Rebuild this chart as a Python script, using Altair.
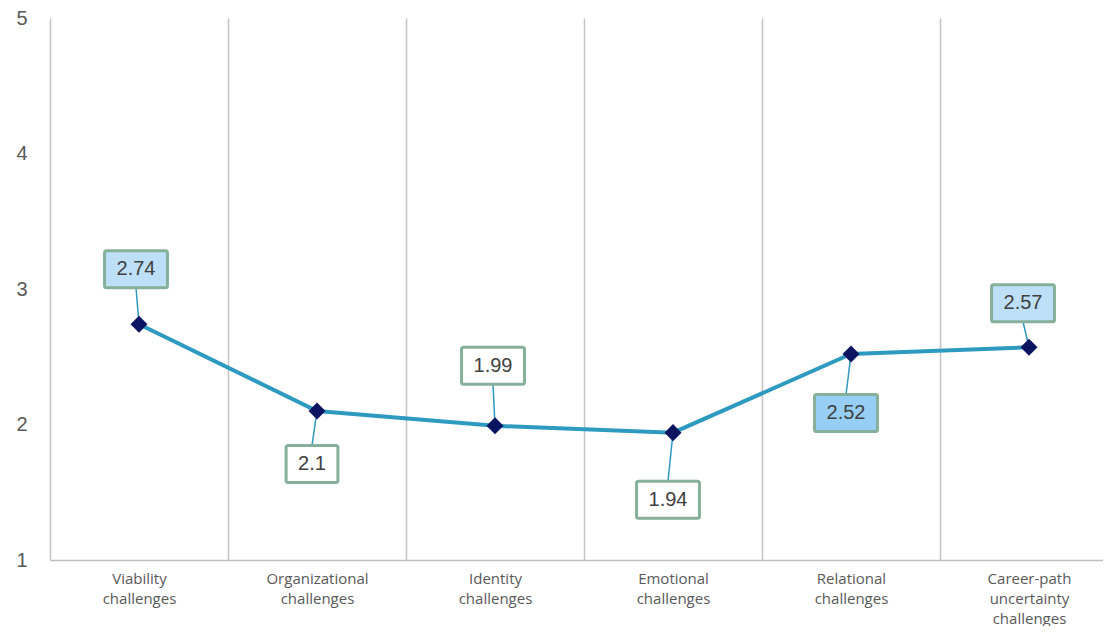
import json
import altair as alt
import pandas as pd

# ---- data ----
categories = [
    "Viability challenges",
    "Organizational challenges",
    "Identity challenges",
    "Emotional challenges",
    "Relational challenges",
    "Career-path uncertainty challenges",
]
tick_label_lines = [
    ["Viability", "challenges"],
    ["Organizational", "challenges"],
    ["Identity", "challenges"],
    ["Emotional", "challenges"],
    ["Relational", "challenges"],
    ["Career-path", "uncertainty", "challenges"],
]
values = [2.74, 2.1, 1.99, 1.94, 2.52, 2.57]
value_labels = ["2.74", "2.1", "1.99", "1.94", "2.52", "2.57"]
y_ticks = [1, 2, 3, 4, 5]

# ---- callout layout (pixel offsets of label box centre from the point) ----
label_dx = [-3, -5, -2, -5, -5, -6]
label_dy = [-55, 53, -60, 67, 59, -44]
box_fill = ["#BDDFF8", "#FFFFFF", "#FFFFFF", "#FFFFFF", "#96CEF5", "#BDDFF8"]

BAND_PX = 178          # width of one category band in pixels
W, H = 1053, 542       # visible plot area (the last band runs past the page edge)
X_MIN, X_MAX = 0, W / BAND_PX
Y_MIN, Y_MAX = 1, 5
PX_X = BAND_PX
PX_Y = H / (Y_MAX - Y_MIN)
BOX_HALF_H = 18.5


def text_width(s, size=20):
    return sum(0.278 * size if c == "." else 0.556 * size for c in s)


rows = []
for i, (cat, v, lab) in enumerate(zip(categories, values, value_labels)):
    x = i + 0.5
    lx = x + label_dx[i] / PX_X
    ly = v - label_dy[i] / PX_Y
    half_w = (text_width(lab) + 24) / 2
    above = label_dy[i] < 0
    edge = ly - BOX_HALF_H / PX_Y if above else ly + BOX_HALF_H / PX_Y
    rows.append(dict(
        category=cat, value=v, x=x, label=lab,
        lx=lx, ly=ly,
        bx1=lx - half_w / PX_X, bx2=lx + half_w / PX_X,
        by1=ly - BOX_HALF_H / PX_Y, by2=ly + BOX_HALF_H / PX_Y,
        edge=edge, fill=box_fill[i],
    ))
df = pd.DataFrame(rows)

label_expr = (
    "datum.value % 1 === 0 ? '' : "
    + json.dumps(tick_label_lines)
    + "[floor(datum.value)]"
)

x_scale = alt.Scale(domain=[X_MIN, X_MAX], nice=False, zero=False)
y_scale = alt.Scale(domain=[Y_MIN, Y_MAX], nice=False, zero=False)

x_axis = alt.Axis(
    values=[k / 2 for k in range(0, 2 * len(categories)) if k / 2 <= X_MAX],
    labelExpr=label_expr,
    title=None,
    ticks=False,
    grid=True,
    gridColor="#C4C4C4",
    gridWidth=1.5,
    gridOpacity={"condition": {"test": "datum.value % 1 !== 0", "value": 0}, "value": 1},
    domainColor="#BFBFBF",
    domainWidth=1.5,
    labelFont="Open Sans",
    labelFontSize=15,
    labelColor="#595959",
    labelLineHeight=20,
    labelBaseline="top",
    labelPadding=11,
    labelOverlap=False,
    labelFlush=False,
)
y_axis = alt.Axis(
    values=y_ticks,
    format="d",
    title=None,
    grid=False,
    domain=False,
    ticks=False,
    labelFont="Liberation Sans",
    labelFontSize=20,
    labelColor="#595959",
    labelPadding=23,
)

base = alt.Chart(df)

line = base.mark_line(color="#2E9AC0", strokeWidth=4).encode(
    x=alt.X("x:Q", scale=x_scale, axis=x_axis),
    y=alt.Y("value:Q", scale=y_scale, axis=y_axis),
)

leaders = base.mark_rule(color="#2E9AC0", strokeWidth=1.5).encode(
    x="x:Q", y="value:Q", x2="lx:Q", y2="edge:Q"
)

points = base.mark_point(
    shape="diamond", filled=True, color="#0B1460", size=290, opacity=1
).encode(x="x:Q", y="value:Q")

boxes = base.mark_rect(
    stroke="#86B09A", strokeWidth=3, cornerRadius=2
).encode(
    x="bx1:Q", x2="bx2:Q", y="by1:Q", y2="by2:Q",
    fill=alt.Fill("fill:N", scale=None),
)

texts = base.mark_text(
    font="Liberation Sans", fontSize=20, color="#404040", baseline="middle", align="center"
).encode(x="lx:Q", y="ly:Q", text="label:N")

chart = (
    alt.layer(line, leaders, points, boxes, texts)
    .properties(
        width=W,
        height=H,
        autosize=alt.AutoSizeParams(type="none"),
        padding={"left": 42, "top": 10, "right": 0, "bottom": 66},
        background="white",
    )
    .configure_view(stroke=None)
)

chart.save("out.html", embed_options={"renderer": "svg", "actions": False})
